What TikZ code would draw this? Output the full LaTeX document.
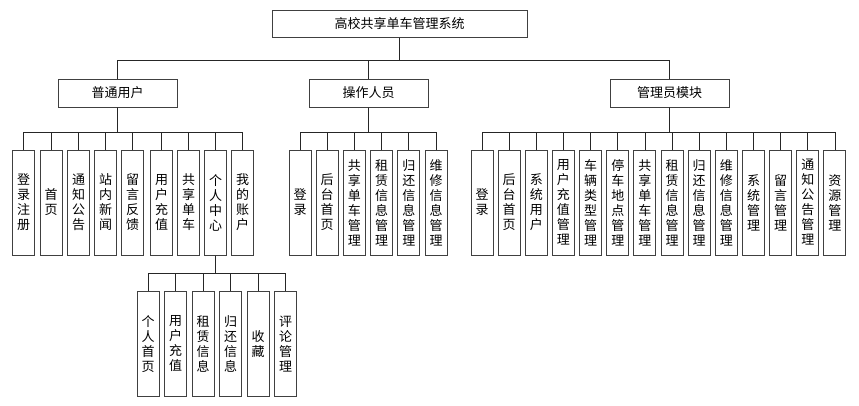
\documentclass[tikz,border=0pt]{standalone}
\usepackage{fontspec}
\newfontfamily\cjk{Noto Sans CJK SC}
\usepackage{tikz}

\tikzset{
  elbow/.style={to path={-- ++(0,#1) -| (\tikztotarget)}}
}

\begin{document}
\begin{tikzpicture}[x=1pt, y=-1pt]
\useasboundingbox (0,0) rectangle (859,405);
% top levels
\begin{scope}[every node/.style={rectangle, draw=black!75, line width=1pt, inner sep=0pt,
                                 font=\cjk\fontsize{13}{15}\selectfont}]
    \node[minimum width=255pt, minimum height=27pt] (root) at (399.5,23.5) {高校共享单车管理系统};
    \node[minimum width=119pt, minimum height=28pt] (user) at (117.5,93) {普通用户};
    \node[minimum width=119pt, minimum height=28pt] (oper) at (368.5,93) {操作人员};
    \node[minimum width=119pt, minimum height=28pt] (admin) at (669.5,93) {管理员模块};
\end{scope}

% leaves
\begin{scope}[every node/.style={rectangle, draw=black!75, line width=1pt, inner sep=0pt,
                                 minimum width=22pt, minimum height=105pt, align=center,
                                 font=\cjk\fontsize{13}{15}\selectfont}]
    % 普通用户
    \node (u1) at (23.5,202.5) {登\\录\\注\\册};
    \node (u2) at (51,202.5) {首\\页};
    \node (u3) at (78.5,202.5) {通\\知\\公\\告};
    \node (u4) at (105.5,202.5) {站\\内\\新\\闻};
    \node (u5) at (132.5,202.5) {留\\言\\反\\馈};
    \node (u6) at (161.5,202.5) {用\\户\\充\\值};
    \node (u7) at (188.5,202.5) {共\\享\\单\\车};
    \node (u8) at (215.5,202.5) {个\\人\\中\\心};
    \node (u9) at (242.5,202.5) {我\\的\\账\\户};
    % 个人中心
    \node (c1) at (148,344) {个\\人\\首\\页};
    \node (c2) at (175.5,344) {用\\户\\充\\值};
    \node (c3) at (203,344) {租\\赁\\信\\息};
    \node (c4) at (230.5,344) {归\\还\\信\\息};
    \node (c5) at (258,344) {收\\藏};
    \node (c6) at (285.5,344) {评\\论\\管\\理};
    % 操作人员
    \node (o1) at (300,202.5) {登\\录};
    \node (o2) at (327.2,202.5) {后\\台\\首\\页};
    \node (o3) at (354.4,202.5) {共\\享\\单\\车\\管\\理};
    \node (o4) at (381.6,202.5) {租\\赁\\信\\息\\管\\理};
    \node (o5) at (408.8,202.5) {归\\还\\信\\息\\管\\理};
    \node (o6) at (436,202.5) {维\\修\\信\\息\\管\\理};
    % 管理员模块
    \node (a1) at (482,202.5) {登\\录};
    \node (a2) at (509.15,202.5) {后\\台\\首\\页};
    \node (a3) at (536.3,202.5) {系\\统\\用\\户};
    \node (a4) at (563.45,202.5) {用\\户\\充\\值\\管\\理};
    \node (a5) at (590.6,202.5) {车\\辆\\类\\型\\管\\理};
    \node (a6) at (617.75,202.5) {停\\车\\地\\点\\管\\理};
    \node (a7) at (644.9,202.5) {共\\享\\单\\车\\管\\理};
    \node (a8) at (672.05,202.5) {租\\赁\\信\\息\\管\\理};
    \node (a9) at (699.2,202.5) {归\\还\\信\\息\\管\\理};
    \node (a10) at (726.35,202.5) {维\\修\\信\\息\\管\\理};
    \node (a11) at (753.5,202.5) {系\\统\\管\\理};
    \node (a12) at (780.65,202.5) {留\\言\\管\\理};
    \node (a13) at (807.8,202.5) {通\\知\\公\\告\\管\\理};
    \node (a14) at (834.95,202.5) {资\\源\\管\\理};
\end{scope}

% connectors
\begin{scope}[every edge/.style={draw=black!85, line width=0.8pt}]
    \path (root.south) edge[elbow=23] (user.north)
                       edge[elbow=23] (oper.north)
                       edge[elbow=23] (admin.north);
    \path (user.south) edge[elbow=25] (u1.north) edge[elbow=25] (u2.north)
                       edge[elbow=25] (u3.north) edge[elbow=25] (u4.north)
                       edge[elbow=25] (u5.north) edge[elbow=25] (u6.north)
                       edge[elbow=25] (u7.north) edge[elbow=25] (u8.north)
                       edge[elbow=25] (u9.north);
    \path (u8.south) edge[elbow=18] (c1.north) edge[elbow=18] (c2.north)
                     edge[elbow=18] (c3.north) edge[elbow=18] (c4.north)
                     edge[elbow=18] (c5.north) edge[elbow=18] (c6.north);
    \path (oper.south) edge[elbow=25] (o1.north) edge[elbow=25] (o2.north)
                       edge[elbow=25] (o3.north) edge[elbow=25] (o4.north)
                       edge[elbow=25] (o5.north) edge[elbow=25] (o6.north);
    \path (admin.south) edge[elbow=25] (a1.north) edge[elbow=25] (a2.north)
                        edge[elbow=25] (a3.north) edge[elbow=25] (a4.north)
                        edge[elbow=25] (a5.north) edge[elbow=25] (a6.north)
                        edge[elbow=25] (a7.north) edge[elbow=25] (a8.north)
                        edge[elbow=25] (a9.north) edge[elbow=25] (a10.north)
                        edge[elbow=25] (a11.north) edge[elbow=25] (a12.north)
                        edge[elbow=25] (a13.north) edge[elbow=25] (a14.north);
\end{scope}
\end{tikzpicture}
\end{document}
